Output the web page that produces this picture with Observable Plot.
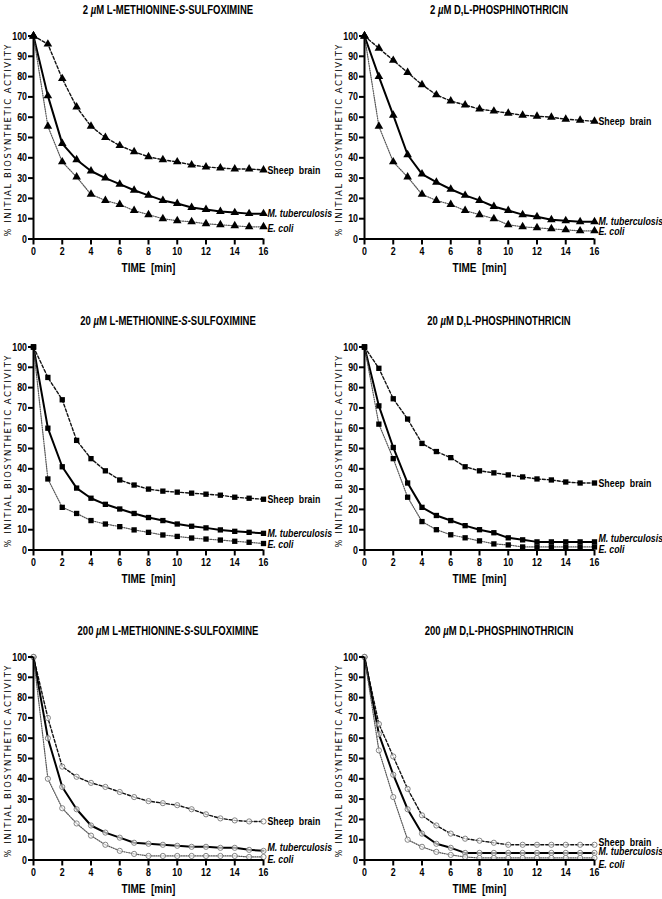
<!DOCTYPE html>
<html>
<head>
<meta charset="utf-8">
<script src="https://cdn.jsdelivr.net/npm/d3@7"></script>
<script src="https://cdn.jsdelivr.net/npm/@observablehq/plot@0.6"></script>
<style>
  html, body { margin: 0; padding: 0; background: #fff; }
  #root { position: relative; width: 662px; height: 899px; overflow: hidden; }
  .panel { position: absolute; width: 331px; height: 311px; }
  .ptitle { position: absolute; top: 3px; left: 0; width: 336px; text-align: center;
    font-family: "Liberation Sans", Arial, sans-serif; transform: scaleX(0.78); transform-origin: 168px 0;
    font-weight: bold; font-size: 12.2px; color: #000; white-space: nowrap; }
  .panel svg { position: absolute; top: 0; left: 0; }
</style>
</head>
<body>
<div id="root"></div>
<script>
// ---- data ----
const time = [0, 1, 2, 3, 4, 5, 6, 7, 8, 9, 10, 11, 12, 13, 14, 15, 16];
const seriesNames = ["Sheep brain", "M. tuberculosis", "E. coli"];
const panelTitles = [
  ["2 ", "µ", "M L-METHIONINE-", "S", "-SULFOXIMINE"],
  ["2 ", "µ", "M D,L-PHOSPHINOTHRICIN"],
  ["20 ", "µ", "M L-METHIONINE-", "S", "-SULFOXIMINE"],
  ["20 ", "µ", "M D,L-PHOSPHINOTHRICIN"],
  ["200 ", "µ", "M L-METHIONINE-", "S", "-SULFOXIMINE"],
  ["200 ", "µ", "M D,L-PHOSPHINOTHRICIN"]
];
const yTicks = [0, 10, 20, 30, 40, 50, 60, 70, 80, 90, 100];
const xTicks = [0, 2, 4, 6, 8, 10, 12, 14, 16];
const xLabel = "TIME  [min]";
const yLabel = "% INITIAL BIOSYNTHETIC ACTIVITY";

// 2 µM MSO
const sheepMSO2 = [100, 96, 79, 65, 55.5, 50, 46, 43, 40.5, 39, 38, 36.5, 35.5, 35, 34.5, 34.5, 34];
const tbMSO2    = [100, 70.5, 47, 39, 33.5, 30, 27, 24, 21.5, 19, 17.5, 15.5, 14.5, 13.5, 13, 12.5, 12.5];
const ecoliMSO2 = [100, 55.5, 38, 30.5, 22, 19, 17, 14, 12, 10, 9, 8.5, 7.5, 7, 6.5, 6, 6];
// 2 µM PPT
const sheepPPT2 = [100, 94, 88, 82, 76, 71, 68, 66, 64, 63, 62, 61, 60.5, 60, 59, 58.5, 58];
const tbPPT2    = [100, 80, 61, 41.5, 32, 28, 24.5, 21.5, 19, 16, 14, 12, 11, 9.5, 9, 8.5, 8.5];
const ecoliPPT2 = [100, 55.5, 38, 30.5, 22, 19, 17, 14, 12, 10, 7, 6, 5.5, 5, 4.5, 4, 4];
// 20 µM MSO
const sheepMSO20 = [100, 85, 74, 54, 45, 39, 34.5, 32, 30, 29, 28.5, 28, 27.5, 27, 26, 25.5, 25];
const tbMSO20    = [100, 60, 41, 30.5, 25.5, 22.5, 20.2, 18, 16, 14.5, 12.8, 11.7, 10.9, 9.9, 9.2, 8.7, 8.2];
const ecoliMSO20 = [100, 35, 21, 18, 14.5, 12.8, 11.5, 9.9, 8.7, 7.4, 6.7, 5.9, 5.4, 4.9, 4.3, 3.8, 3.2];
// 20 µM PPT
const sheepPPT20 = [100, 89.5, 74.5, 64.5, 52.5, 48.5, 45.5, 41, 39, 38, 37, 36, 35, 34.5, 33.5, 33, 33];
const tbPPT20    = [100, 71, 50.5, 33, 21, 17, 14.5, 12, 10, 8.5, 6, 5, 4, 4, 4, 4, 4];
const ecoliPPT20 = [100, 62, 45, 26, 14, 10, 7.5, 6, 4.5, 3, 2.5, 1.5, 1.5, 1.5, 1.5, 1.5, 1.5];
// 200 µM MSO
const sheepMSO200 = [100, 70, 46, 41, 38, 36, 33.5, 31, 29, 28, 27, 25, 22.5, 20.5, 19.5, 19, 19];
const tbMSO200    = [100, 60, 36, 25, 17, 13.5, 11, 8.5, 8, 7.5, 7, 6.5, 6.5, 6, 6, 5, 4.5];
const ecoliMSO200 = [100, 40, 25.5, 18, 12, 7.5, 4.5, 3, 2, 2, 2, 2, 2, 2, 2, 1.5, 1.5];
// 200 µM PPT
const sheepPPT200 = [100, 67, 51, 35, 22, 17, 13, 10.5, 9.5, 8.5, 7.5, 7.5, 7.5, 7.5, 7.5, 7.5, 7.5];
const tbPPT200    = [100, 62, 42, 25, 13, 8, 6, 3.5, 3.5, 3.5, 3.5, 3.5, 3.5, 3.5, 3.5, 3.5, 3.5];
const ecoliPPT200 = [100, 54, 31, 10, 6.5, 4, 2.5, 1.5, 1, 1, 1, 1, 1, 1, 1, 1, 1];

const panelData = [
  [sheepMSO2, tbMSO2, ecoliMSO2],
  [sheepPPT2, tbPPT2, ecoliPPT2],
  [sheepMSO20, tbMSO20, ecoliMSO20],
  [sheepPPT20, tbPPT20, ecoliPPT20],
  [sheepMSO200, tbMSO200, ecoliMSO200],
  [sheepPPT200, tbPPT200, ecoliPPT200]
];

// ---- styling ----
const FONT = '"Liberation Sans", Arial, sans-serif';
const CONDENSE = 0.8;
const rowTops = [0, 311, 621];
const symbols = ["triangle", "triangle", "square", "square", "circle", "circle"];
const labelDy = [
  [0, 0, 2], [0, 0, 1], [0, 0, 1], [0, -3, 3], [0, -3, 3], [-2, -1, 6]
];
const lineStyles = [
  {stroke: "#111", strokeWidth: 1.4, strokeDasharray: "3,2"},
  {stroke: "#000", strokeWidth: 2, strokeDasharray: null},
  {stroke: "#555", strokeWidth: 1.2, strokeDasharray: "1,1.3"}
];

const root = document.getElementById("root");

function condense(svg) {
  svg.querySelectorAll("text").forEach(t => {
    if (t.textContent === yLabel) {
      t.setAttribute("font-family", '"DejaVu Sans", sans-serif');
      t.setAttribute("font-size", "8.4");
      t.setAttribute("font-weight", "normal");
      t.setAttribute("textLength", "192");
      t.setAttribute("lengthAdjust", "spacing");
      return;
    }
    const L = t.getComputedTextLength();
    if (L > 0) {
      t.setAttribute("textLength", (L * CONDENSE).toFixed(2));
      t.setAttribute("lengthAdjust", "spacingAndGlyphs");
    }
  });
}

panelData.forEach((series, i) => {
  const col = i % 2, row = Math.floor(i / 2);
  const div = document.createElement("div");
  div.className = "panel";
  div.style.left = (col * 331) + "px";
  div.style.top = rowTops[row] + "px";
  root.appendChild(div);

  const rows = [];
  series.forEach((vals, s) => vals.forEach((v, k) => rows.push({t: time[k], v, s: seriesNames[s]})));
  const lastRows = series.map((vals, s) => ({t: time[time.length - 1], v: vals[vals.length - 1], s: seriesNames[s]}));

  const sym = symbols[i];
  const isCircle = sym === "circle";
  const marks = [];
  series.forEach((vals, s) => {
    const st = lineStyles[s];
    marks.push(Plot.line(rows.filter(d => d.s === seriesNames[s]), {
      x: "t", y: "v", stroke: st.stroke, strokeWidth: st.strokeWidth,
      strokeDasharray: st.strokeDasharray || undefined
    }));
  });
  series.forEach((vals, s) => {
    marks.push(Plot.dot(rows.filter(d => d.s === seriesNames[s]), isCircle ? {
      x: "t", y: "v", symbol: "circle", r: 2.6, fill: "white", fillOpacity: 0.6, stroke: "#777", strokeWidth: 0.9
    } : {
      x: "t", y: "v", symbol: sym, r: sym === "triangle" ? 3.2 : 3.0, fill: "#000", stroke: "none"
    }));
  });
  // axes
  marks.push(Plot.axisY({ticks: yTicks, tickSize: 5, tickPadding: 1.5, strokeWidth: 2, label: null,
    fontWeight: "bold", fontSize: 11}));
  marks.push(Plot.axisX({ticks: xTicks, tickSize: 6, tickPadding: 2, strokeWidth: 2, label: null,
    fontWeight: "bold", fontSize: 11}));
  marks.push(Plot.ruleX([0], {y1: 0, y2: 100, stroke: "#000", strokeWidth: 2}));
  marks.push(Plot.ruleY([0], {x1: 0, x2: 16, stroke: "#000", strokeWidth: 2}));
  // series labels
  lastRows.forEach((d, s) => {
    marks.push(Plot.text([d], {
      x: "t", y: "v", text: dd => dd.s === "Sheep brain" ? "Sheep\u00A0 brain" : dd.s,
      textAnchor: "start", dx: 4, dy: labelDy[i][s],
      fontWeight: "bold", fontSize: 11, fontStyle: s === 0 ? "normal" : "italic", fill: "#000"
    }));
  });
  // axis titles
  marks.push(Plot.text([xLabel], {text: d => d.replace("  ", "\u00A0 "), frameAnchor: "bottom", dy: 32.5,
    fontWeight: "bold", fontSize: 12.5}));
  marks.push(Plot.text([yLabel], {text: d => d, frameAnchor: "left", textAnchor: "middle", rotate: -90,
    dx: -25, dy: 3, fontWeight: "normal", fontSize: 8.4}));

  const chart = Plot.plot({
    width: 331,
    height: 280,
    marginTop: 35.5,
    marginBottom: 41.5,
    marginLeft: 33,
    marginRight: 68,
    x: {domain: [0, 16], axis: null},
    y: {domain: [0, 100], axis: null},
    style: {fontFamily: FONT, fontSize: "10px", color: "#000", background: "transparent", overflow: "visible"},
    marks
  });
  div.appendChild(chart);
  condense(chart);

  const title = document.createElement("div");
  title.className = "ptitle";
  panelTitles[i].forEach(part => {
    const span = document.createElement("span");
    span.textContent = part;
    if (part === "µ" || part === "S") span.style.fontStyle = "italic";
    title.appendChild(span);
  });
  div.appendChild(title);
});
</script>
</body>
</html>
